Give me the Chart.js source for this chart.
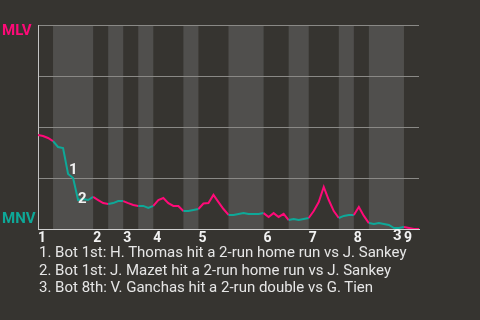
<!DOCTYPE html>
<html><head><meta charset="utf-8">
<script src="https://cdn.jsdelivr.net/npm/chart.js@4.4.1/dist/chart.umd.min.js"></script>
<style>
html,body{margin:0;padding:0;background:#363430;width:480px;height:320px;overflow:hidden;}
#wrap{position:relative;width:480px;height:320px;}
canvas{position:absolute;left:0;top:0;}
#notes{position:absolute;left:39px;top:244px;font:15px Roboto, sans-serif;line-height:17.5px;color:#e6e6e6;white-space:nowrap;}
</style></head><body>
<div id="wrap"><canvas id="c" width="480" height="320"></canvas>
<div id="notes"></div></div>
<script>
// plate appearances in each half-inning (top 1, bot 1, top 2, ...)
const paPerHalf = [3,8,3,3,3,3,6,3,6,7,5,4,6,3,3,7,3];
const inningLabels = ['1','2','3','4','5','6','7','8','9'];
// MLV win probability (%) after each plate appearance
const winProbMLV = [
 46.1,45.6,44.6,43.1,40.2,39.7,27.0,25.0,14.2,14.7,
 14.2,15.7,14.2,12.7,12.3,12.7,13.7,13.7,12.7,11.8,
 11.3,11.3,10.3,11.3,14.2,15.2,12.7,11.3,11.3,8.8,
 8.8,9.3,9.8,12.5,12.7,16.7,13.2,9.8,6.9,6.9,
 7.4,7.8,7.4,7.4,7.4,7.8,5.9,7.8,5.9,7.4,
 4.4,4.9,4.4,4.9,5.4,8.8,13.2,20.6,14.2,8.8,
 5.4,6.4,6.9,6.9,10.8,6.4,2.9,2.5,2.9,2.5,
 2.0,0.5,0.5,1.0,0.5,0.0,0.0
];
const eventIndex = [6,8,71];
const eventLabels = ['1','2','3'];
const eventTexts = [
 '1. Bot 1st: H. Thomas hit a 2-run home run vs J. Sankey',
 '2. Bot 1st: J. Mazet hit a 2-run home run vs J. Sankey',
 '3. Bot 8th: V. Ganchas hit a 2-run double vs G. Tien'
];
const teamLabels = ['MLV','MNV'];

const PINK = '#ff0a78', TEAL = '#0ea898';
const halfStarts = [0];
paPerHalf.forEach(n => halfStarts.push(halfStarts[halfStarts.length-1] + n));
const inningStarts = halfStarts.filter((v,i) => i % 2 === 0 && i < paPerHalf.length);
const total = halfStarts[halfStarts.length-1];
const points = winProbMLV.map((v,i) => ({x:i, y:v}));
function halfOf(i){ for(let h=0;h<paPerHalf.length;h++){ if(i>=halfStarts[h] && i<halfStarts[h+1]) return h; } return paPerHalf.length-1; }

document.getElementById('notes').innerHTML = eventTexts.map(t=>'<div>'+t+'</div>').join('');

const bands = {
 id:'bands',
 beforeDraw(chart){
  const {ctx, chartArea:a, scales:{x}} = chart;
  ctx.save();
  ctx.fillStyle = '#363430'; ctx.fillRect(0,0,chart.width,chart.height);
  ctx.fillStyle = '#504f4d';
  for(let h=1; h<paPerHalf.length; h+=2){
   const x0 = x.getPixelForValue(halfStarts[h]), x1 = x.getPixelForValue(halfStarts[h+1]);
   ctx.fillRect(x0, a.top, x1-x0, a.bottom-a.top);
  }
  ctx.restore();
 },
 afterDraw(chart){
  const {ctx, chartArea:a} = chart;
  ctx.save();
  ctx.font = 'bold 15px Roboto';
  ctx.textBaseline = 'middle'; ctx.textAlign = 'left';
  ctx.fillStyle = PINK; ctx.fillText(teamLabels[0], 2, a.top + 6);
  ctx.fillStyle = TEAL; ctx.fillText(teamLabels[1], 2, a.bottom - 10);
  ctx.restore();
 },
 afterDatasetsDraw(chart){
  const {ctx} = chart;
  const meta = chart.getDatasetMeta(0);
  const offs = [[1,0],[0,3],[-1,12]];
  ctx.save();
  ctx.font = 'bold 15px Roboto';
  ctx.fillStyle = '#f2f2f2'; ctx.textAlign='left'; ctx.textBaseline='alphabetic';
  eventIndex.forEach((idx,k)=>{
   const p = meta.data[idx];
   ctx.fillText(eventLabels[k], p.x + offs[k][0], p.y + offs[k][1]);
  });
  ctx.restore();
 }
};

new Chart(document.getElementById('c'), {
 type:'line',
 data:{ datasets:[{
  data: points, borderWidth:2, pointRadius:0, tension:0, fill:false,
  borderColor: PINK,
  segment:{ borderColor: ctx => (halfOf(ctx.p0DataIndex) % 2 === 0 ? PINK : TEAL) }
 }]},
 options:{
  responsive:false, animation:false, devicePixelRatio:1,
  layout:{ padding:{left:38, top:25, right:61, bottom:71} },
  plugins:{ legend:{display:false}, tooltip:{enabled:false} },
  scales:{
   x:{ type:'linear', min:0, max:total,
    grid:{display:false, drawTicks:false},
    border:{display:true, color:'#cfcfcf', width:1},
    afterBuildTicks: s => { s.ticks = inningStarts.map(v=>({value:v})); },
    afterFit: s => { s.height = 20; },
    ticks:{ align:'start', autoSkip:false, maxRotation:0, padding:1, color:'#f2f2f2',
     font:{family:'Roboto', size:14, weight:'bold'},
     callback: v => inningLabels[inningStarts.indexOf(v)] }
   },
   y:{ min:0, max:100,
    ticks:{display:false, stepSize:25},
    grid:{drawTicks:false, color: c => c.tick && c.tick.value === 0 ? 'rgba(0,0,0,0)' : '#8a8986'},
    border:{display:true, color:'#c4c4c4', width:1}
   }
  }
 },
 plugins:[bands]
});
</script>
</body></html>
